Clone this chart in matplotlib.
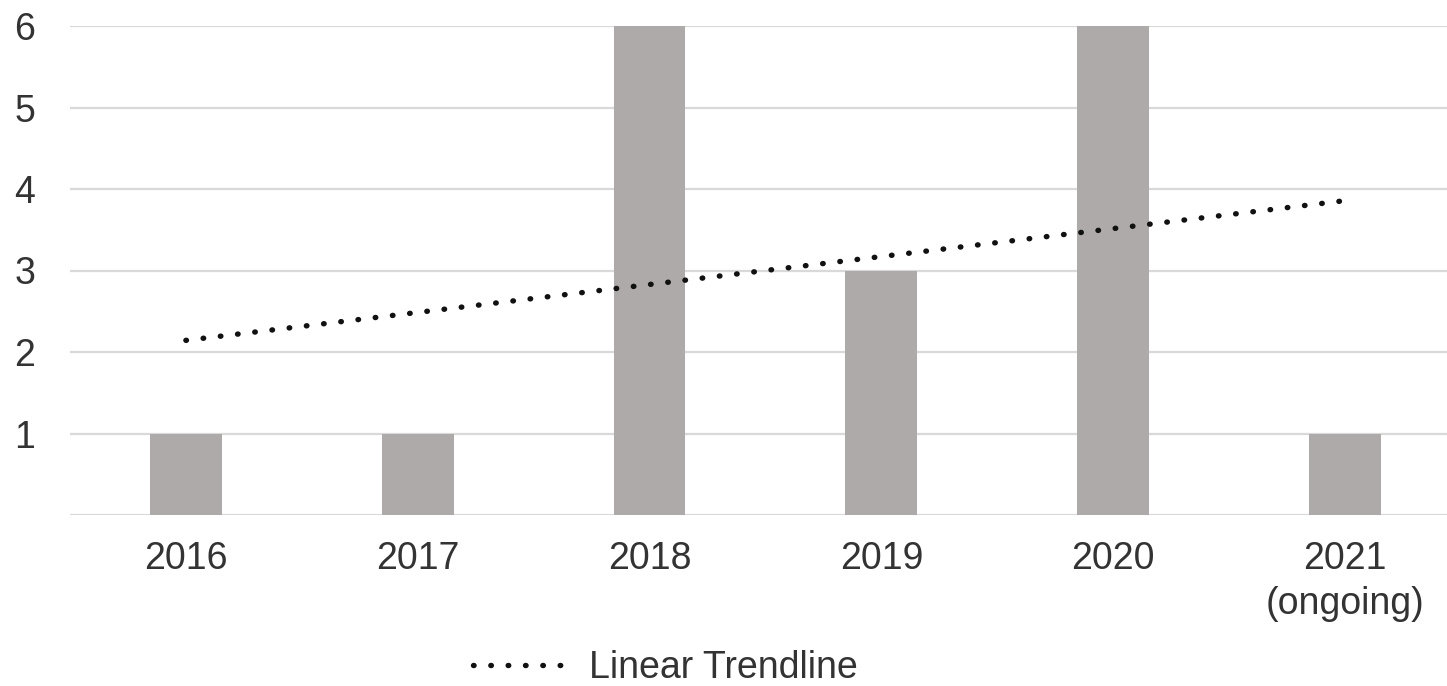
import numpy as np
import matplotlib
matplotlib.use("Agg")
import matplotlib.pyplot as plt
from matplotlib.lines import Line2D

categories = ["2016", "2017", "2018", "2019", "2020", "2021\n(ongoing)"]
values = [1, 1, 6, 3, 6, 1]
yticks = [1, 2, 3, 4, 5, 6]

plt.rcParams['font.family'] = ['Liberation Sans', 'DejaVu Sans']

fig = plt.figure(figsize=(14.47, 6.86), dpi=100)
ax = fig.add_axes([70/1447, 1-515/686, 1-70/1447, (515-26)/686])

x = np.arange(len(categories))
ax.bar(x, values, width=0.31, color="#AEAAAA", zorder=2)

slope, intercept = np.polyfit(x, values, 1)
trend = slope * x + intercept
ax.plot(x, trend, color="#111111", lw=3.9, linestyle=(0, (0.1, 3.1)),
        dash_capstyle='round', zorder=3)

ax.set_ylim(0, 6)
ax.set_xlim(-0.5, 5.44)
ax.set_yticks(yticks)
ax.set_yticklabels([str(t) for t in yticks])
ax.set_xticks(x)
ax.set_xticklabels(categories, linespacing=1.32)
ax.grid(axis='y', color="#D9D9D9", lw=1.6, zorder=0)
ax.axhline(0, color="#D9D9D9", lw=1.6, zorder=1)
for s in ax.spines.values():
    s.set_visible(False)
ax.tick_params(axis='both', length=0, labelsize=27, colors="#333333")
ax.tick_params(axis='x', pad=19)
ax.tick_params(axis='y', pad=25)
ax.set_axisbelow(True)

handle = Line2D([0], [0], color="#111111", lw=3.9, linestyle=(0, (0.1, 3.1)),
                dash_capstyle='round')
fig.legend([handle], ["Linear Trendline"], loc='center', bbox_to_anchor=(0.46, 0.026),
           frameon=False, fontsize=27, labelcolor="#333333", handlelength=2.4,
           handletextpad=0.7, borderpad=0)

fig.savefig("out.png", dpi=100)
